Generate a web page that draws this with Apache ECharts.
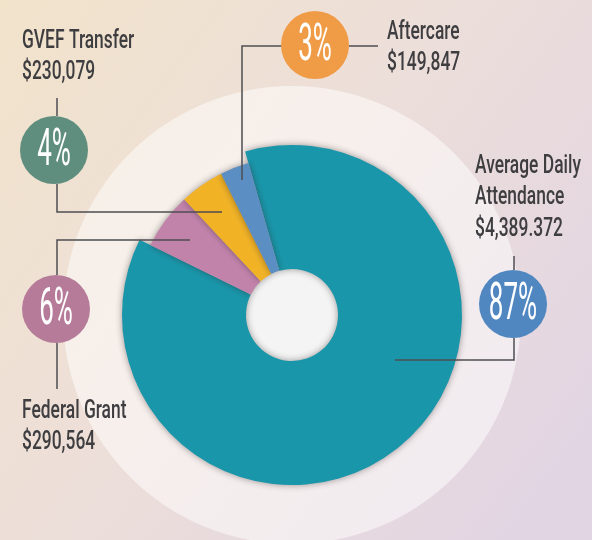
<!DOCTYPE html>
<html>
<head>
<meta charset="utf-8">
<script src="https://cdn.jsdelivr.net/npm/echarts@6/dist/echarts.min.js"></script>
<style>
html, body { margin: 0; padding: 0; }
#chart { width: 592px; height: 540px; }
</style>
</head>
<body>
<div id="chart"></div>
<script>
// revenue sources
var categories = ['Average Daily\nAttendance', 'Federal Grant', 'GVEF Transfer', 'Aftercare'];
var amounts = [4389372, 290564, 230079, 149847];
var amountLabels = ['$4,389.372', '$290,564', '$230,079', '$149,847'];
var percentLabels = ['87%', '6%', '4%', '3%'];
var sliceColors = ['#1996aa', '#c283ab', '#f1b226', '#5b8ec3'];
var badgeColors = ['#5187c0', '#b57b99', '#5f8e7e', '#f09b46'];

var cx = 292, cy = 315;
var textColor = '#3e3d40';
var lineColor = '#4e4d52';
var labelFont = '500 26px Roboto';
var pctFont = '52px Roboto';

// where each callout goes (badge centre, first baseline, connector lines)
var callouts = [
	{ badge: [513, 304], text: [475, 175], lines: [[[514, 256], [514, 270]], [[514, 338], [514, 360], [395, 360]]] },
	{ badge: [56, 309], text: [22, 420], lines: [[[190, 240], [57, 240], [57, 275]], [[57, 343], [57, 389]]] },
	{ badge: [54, 150], text: [22, 50], lines: [[[57, 98], [57, 116]], [[57, 184], [57, 212], [222, 212]]] },
	{ badge: [315, 45], text: [387, 41], lines: [[[242, 180], [242, 46], [282, 46]], [[349, 46], [378, 46]]] }
];

var myChart = echarts.init(document.getElementById('chart'), null, { renderer: 'canvas' });

var graphics = [
	{
		type : 'rect',
		z : 0,
		shape : { x : 0, y : 0, width : 592, height : 540 },
		style : {
			fill : new echarts.graphic.LinearGradient(0, 0, 1, 0.8, [
				{ offset : 0, color : '#f2e3cb' },
				{ offset : 0.45, color : '#eddfd8' },
				{ offset : 1, color : '#e2d5e3' }
			])
		},
		silent : true
	},
	{
		type : 'circle',
		z : 0, z2 : 1,
		shape : { cx : cx, cy : cy, r : 229 },
		style : { fill : 'rgba(255,255,255,0.5)' },
		silent : true
	},
	{
		type : 'circle',
		z : 0, z2 : 2,
		shape : { cx : cx, cy : cy, r : 47 },
		style : { fill : '#f4f4f4' },
		silent : true
	}
];

callouts.forEach(function(c, i) {
	c.lines.forEach(function(pts) {
		graphics.push({
			type : 'polyline',
			z : 10,
			shape : { points : pts },
			style : { stroke : lineColor, lineWidth : 1.5, fill : null },
			silent : true
		});
	});
	graphics.push({
		type : 'circle',
		z : 10,
		shape : { cx : c.badge[0], cy : c.badge[1], r : 34 },
		style : { fill : badgeColors[i] },
		silent : true
	});
	graphics.push({
		type : 'text',
		z : 11,
		x : c.badge[0], y : c.badge[1] - 24,
		scaleX : 0.5,
		style : {
			text : percentLabels[i],
			font : pctFont,
			fill : '#ffffff',
			textAlign : 'center',
			textVerticalAlign : 'top'
		},
		silent : true
	});
	var textLines = categories[i].split('\n').concat([amountLabels[i]]);
	textLines.forEach(function(t, k) {
		graphics.push({
			type : 'text',
			z : 11,
			x : c.text[0], y : c.text[1] - 22 + k * 31.5,
			scaleX : 0.67,
			style : {
				text : t,
				font : labelFont,
				fill : textColor,
				textAlign : 'left',
				textVerticalAlign : 'top'
			},
			silent : true
		});
	});
});

function pieData(showBig) {
	return amounts.map(function(v, i) {
		var visible = showBig ? i === 0 : i !== 0;
		return {
			name : categories[i],
			value : v,
			itemStyle : {
				color : visible ? sliceColors[i] : 'rgba(0,0,0,0)',
				shadowBlur : visible ? 7 : 0,
				shadowColor : 'rgba(40,30,30,0.45)'
			}
		};
	});
}

var pieBase = {
	type : 'pie',
	center : [cx, cy],
	startAngle : 106,
	clockwise : true,
	avoidLabelOverlap : false,
	silent : true,
	animation : false,
	label : { show : false },
	labelLine : { show : false },
	emphasis : { disabled : true }
};

var option = {
	animation : false,
	graphic : graphics,
	series : [
		echarts.util.merge({ radius : [46, 170], data : pieData(true) }, pieBase),
		echarts.util.merge({ radius : [46, 158], data : pieData(false) }, pieBase)
	]
};

myChart.setOption(option);
</script>
</body>
</html>
